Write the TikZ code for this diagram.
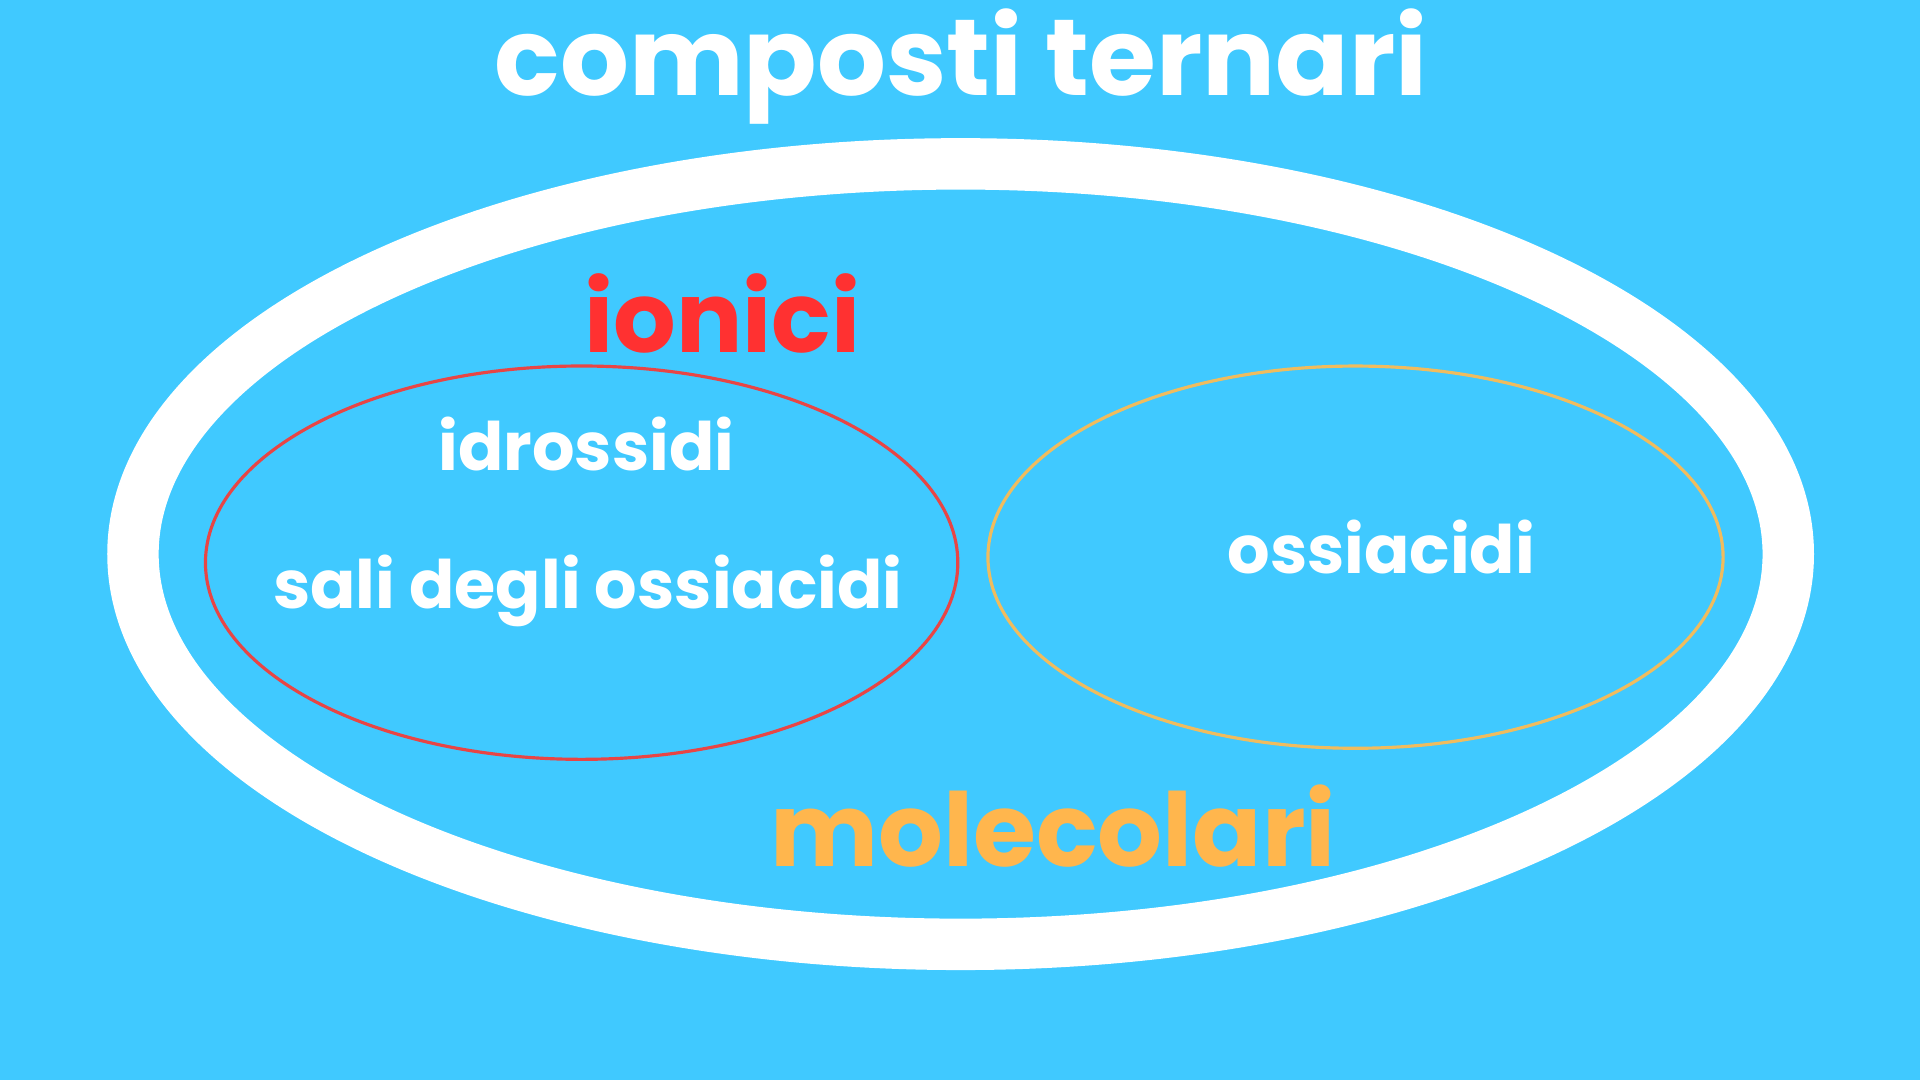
\documentclass[tikz,border=0pt]{standalone}
\usepackage{fontspec}
\setmainfont{Poppins}
\usetikzlibrary{shapes.geometric}
\definecolor{bgblue}{HTML}{40C9FF}
\definecolor{ionred}{HTML}{FF3131}
\definecolor{molorange}{HTML}{FFB64D}
\definecolor{redline}{HTML}{E84545}
\definecolor{orangeline}{HTML}{F0BC5E}
\tikzset{
  ring/.style={ellipse, draw, inner sep=0pt},
  lbl/.style={anchor=base, inner sep=0pt, font=\bfseries},
}
\begin{document}
\begin{tikzpicture}[x=0.012245cm, y=-0.012245cm]
\fill[bgblue] (0,0) rectangle (1568,882);
\useasboundingbox (0,0) rectangle (1568,882);
\node[ring, draw=white, line width=0.514cm, minimum width=16.543cm, minimum height=7.800cm] (outer) at (784.5,452.5) {};
\node[ring, draw=redline, line width=0.9pt, minimum width=7.519cm, minimum height=3.931cm] (ionring) at (475,459.5) {};
\node[ring, draw=orangeline, line width=0.9pt, minimum width=7.347cm, minimum height=3.820cm] (molring) at (1107,455) {};
\node[lbl, text=white, font=\bfseries\fontsize{30.8}{36}\selectfont] (title) at (785,78) {composti ternari};
\node[lbl, text=ionred, font=\bfseries\fontsize{28}{34}\selectfont] (ionici) at (590,288) {ionici};
\node[lbl, text=white, font=\bfseries\fontsize{19}{24}\selectfont] (idro) at (479,384) {idrossidi};
\node[lbl, text=white, font=\bfseries\fontsize{19}{24}\selectfont] (sali) at (480,497) {sali degli ossiacidi};
\node[lbl, text=white, font=\bfseries\fontsize{19}{24}\selectfont] (ossi) at (1128,468) {ossiacidi};
\node[lbl, text=molorange, font=\bfseries\fontsize{29}{35}\selectfont] (mol) at (860,708) {molecolari};
\end{tikzpicture}
\end{document}
